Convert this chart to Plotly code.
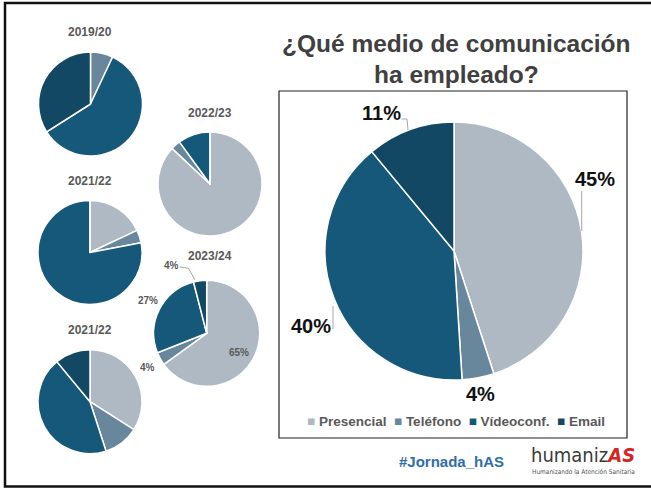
import plotly.graph_objects as go

W, H = 651, 488

categories = ["Presencial", "Teléfono", "Vídeoconf.", "Email"]
colors = ["#aeb9c4", "#68879c", "#15587a", "#124863"]

years = ["2019/20", "2022/23", "2021/22", "2023/24", "2021/22"]
v_2019_20 = [0, 7, 59, 34]
v_2022_23 = [87, 3, 10, 0]
v_2021_22_a = [18, 4, 78, 0]
v_2023_24 = [65, 4, 27, 4]
v_2021_22_b = [34, 11, 44, 11]
v_total = [45, 4, 40, 11]

small_values = [v_2019_20, v_2022_23, v_2021_22_a, v_2023_24, v_2021_22_b]

# layout (pixels): pie centres / radii and title positions
small_centres = [(90.5, 104), (210, 184), (90, 252.5), (206.7, 333.3), (90, 401.7)]
small_r = [52, 52, 52, 53, 52]
title_pos = [(90, 32), (210, 113), (90, 181), (210, 256), (90, 330)]
main_c, main_r = (454, 251), 129


def px(x):
    return x / W


def py(y):
    return 1 - y / H


def domain(c, r):
    cx, cy = c
    return dict(x=[px(cx - r), px(cx + r)], y=[py(cy + r), py(cy - r)])


fig = go.Figure()

for vals, c, r in zip(small_values, small_centres, small_r):
    fig.add_trace(go.Pie(
        labels=categories, values=vals, sort=False, direction="clockwise",
        rotation=0, domain=domain(c, r), textinfo="none", hoverinfo="label+percent",
        marker=dict(colors=colors, line=dict(color="white", width=1.5)),
        showlegend=False,
    ))

fig.add_trace(go.Pie(
    labels=categories, values=v_total, sort=False, direction="clockwise",
    rotation=0, domain=domain(main_c, main_r), textinfo="none",
    hoverinfo="label+percent",
    marker=dict(colors=colors, line=dict(color="white", width=1.5)),
    showlegend=False,
))

ann = []
FONT = "Liberation Sans, Arial, sans-serif"
NARROW = "Liberation Sans Narrow, DejaVu Sans Condensed, sans-serif"
for t, (x, y) in zip(years, title_pos):
    ann.append(dict(x=px(x), y=py(y), text=f"<b>{t}</b>", showarrow=False,
                    xanchor="center", yanchor="middle",
                    font=dict(family=FONT, size=12, color="#595959")))

# 2023/24 labels
lbl_small = [(239, 352), (147.7, 367), (147.7, 300), (171.7, 265)]
for v, pos in zip(v_2023_24, lbl_small):
    ann.append(dict(x=px(pos[0]), y=py(pos[1]), text=f"<b>{v}%</b>", showarrow=False,
                    xanchor="center", yanchor="middle",
                    font=dict(family=FONT, size=10, color="#595959")))

# main pie labels
lbl_main = [(595, 179), (480, 394), (311, 326), (381, 113)]
for v, pos in zip(v_total, lbl_main):
    ann.append(dict(x=px(pos[0]), y=py(pos[1]), text=f"<b>{v}%</b>", showarrow=False,
                    xanchor="center", yanchor="middle",
                    font=dict(family=FONT, size=20, color="#111111")))

# title
ann.append(dict(x=px(456), y=py(44), text="<b>¿Qué medio de comunicación</b>",
                showarrow=False, xanchor="center", yanchor="middle",
                font=dict(family=FONT, size=24.5, color="#404040")))
ann.append(dict(x=px(456), y=py(74), text="<b>ha empleado?</b>",
                showarrow=False, xanchor="center", yanchor="middle",
                font=dict(family=FONT, size=24.5, color="#404040")))

# legend as text
leg = "  ".join(f"<span style='color:{c}'>■</span> {n}" for n, c in zip(categories, colors))
ann.append(dict(x=px(456), y=py(421.5), text=f"<b>{leg}</b>", showarrow=False,
                xanchor="center", yanchor="middle",
                font=dict(family=FONT, size=13.5, color="#595959")))

# footer
ann.append(dict(x=px(451.5), y=py(461), text="<b>#Jornada_hAS</b>", showarrow=False,
                xanchor="center", yanchor="middle",
                font=dict(family=FONT, size=15, color="#2f6ea8")))
ann.append(dict(x=px(529), y=py(455), text="humaniz<span style='color:#d42424'><b><i>AS</i></b></span>",
                showarrow=False, xanchor="left", yanchor="middle",
                font=dict(family=NARROW, size=20, color="#3a3a3a")))
ann.append(dict(x=px(530), y=py(472), text="Humanizando la Atención Sanitaria",
                showarrow=False, xanchor="left", yanchor="middle",
                font=dict(family=NARROW, size=6.5, color="#555555")))

shapes = []


def rect(x0, y0, x1, y1, w, col):
    shapes.append(dict(type="rect", xref="paper", yref="paper",
                       x0=px(x0), x1=px(x1), y0=py(y1), y1=py(y0),
                       line=dict(color=col, width=w), fillcolor="rgba(0,0,0,0)"))


def path(points, col="#a6a6a6", w=1):
    d = "M " + " L ".join(f"{px(x)},{py(y)}" for x, y in points)
    shapes.append(dict(type="path", xref="paper", yref="paper", path=d,
                       line=dict(color=col, width=w)))


rect(5, 3, 662, 486.5, 2.5, "#111111")
rect(279, 91, 627, 438, 1.2, "#222222")

# leader lines
path([(401.5, 119), (407, 119), (408, 130)])
path([(581.7, 191), (581.7, 231)])
path([(333, 306), (333, 329)])
path([(180, 267), (188.5, 268.3), (195, 280)])

fig.update_layout(
    width=W, height=H, margin=dict(l=0, r=0, t=0, b=0),
    paper_bgcolor="white", plot_bgcolor="white",
    annotations=ann, shapes=shapes, showlegend=False,
)

fig.write_html("out.html", config={"displayModeBar": False},
               post_script="document.body.style.margin='0';")
